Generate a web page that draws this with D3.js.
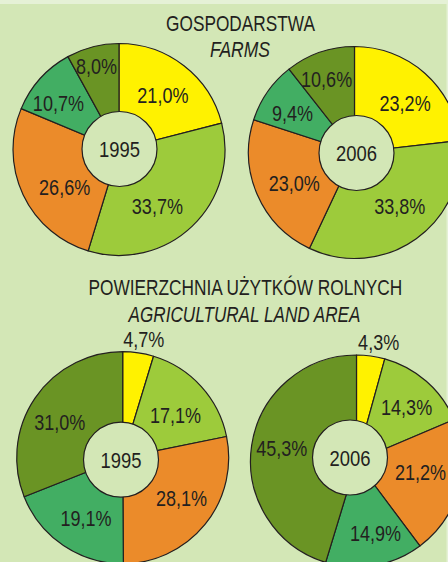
<!DOCTYPE html>
<html>
<head>
<meta charset="utf-8">
<script src="https://cdn.jsdelivr.net/npm/d3@7"></script>
<style>
  body { margin: 0; background: #d3e7b6; }
  svg { display: block; }
</style>
</head>
<body>
<svg id="chart" width="448" height="562"></svg>
<script>
// slice order, clockwise from 12 o'clock (legend not shown in the crop)
const categories = ['c1', 'c2', 'c3', 'c4', 'c5']
const farms1995 = [21.0, 33.7, 26.6, 10.7, 8.0]
const farms2006 = [23.2, 33.8, 23.0, 9.4, 10.6]
const land1995 = [4.7, 17.1, 28.1, 19.1, 31.0]
const land2006 = [4.3, 14.3, 21.2, 14.9, 45.3]
const years = ['1995', '2006']

const colors = ['#fff200', '#9dcb3b', '#eb8b2a', '#42ae63', '#6a9424']
const bg = '#d3e7b6'
const ink = '#231f20'

let svg = d3.select('#chart')
let width = 448, height = 562

svg.append('rect').attr('width', width).attr('height', height).attr('fill', bg)
// lighter frame strips at top and right edge
svg.append('rect').attr('width', width).attr('height', 4).attr('fill', '#e5f1d6')
svg.append('rect').attr('x', width - 1.5).attr('width', 1.5).attr('height', height).attr('fill', '#e5f1d6')

let color = d3.scaleOrdinal(categories, colors)
let pl = d3.formatLocale({ decimal: ',', thousands: ' ', grouping: [3], currency: ['', ''] })
let pct = v => pl.format('.1f')(v) + '%'

// condensed look: Arial-metric font squeezed horizontally
let font = '"Liberation Sans", Arial, sans-serif'
let squeeze = 0.82

// titles, squeezed to the width they have in the original
let titles = [
  { text: 'GOSPODARSTWA', x: 240.5, y: 30.5, len: 149, italic: false },
  { text: 'FARMS', x: 240, y: 56.5, len: 60, italic: true },
  { text: 'POWIERZCHNIA UŻYTKÓW ROLNYCH', x: 245.3, y: 295, len: 314, italic: false },
  { text: 'AGRICULTURAL LAND AREA', x: 244.5, y: 321.5, len: 232, italic: true }
]
svg.append('g').selectAll('text')
  .data(titles)
  .enter().append('text')
  .attr('text-anchor', 'middle')
  .attr('font-family', font)
  .attr('font-size', 22.5)
  .attr('font-style', d => d.italic ? 'italic' : 'normal')
  .attr('fill', ink)
  .text(d => d.text)
  .attr('transform', function (d) {
    let k = d.len / this.getComputedTextLength()
    return `translate(${d.x},${d.y}) scale(${k},1)`
  })

let radius = 106
let labelRadius = 70
let outsideRadius = 120

let pies = [
  { values: farms1995, year: years[0], cx: 119, cy: 149.5, hole: [0.5, -0.5],
    nudge: [[1, 1], [-10, 5.5], [9, 7.5], [-8.5, 0.5], [-5, -16]] },
  { values: farms2006, year: years[1], cx: 354.5, cy: 152.5, hole: [2, 0.5],
    nudge: [[4, 3], [4.5, -3.5], [4, 3], [-4.5, 1], [-5, -7.5]] },
  { values: land1995, year: years[0], cx: 122.7, cy: 457.7, hole: [-1.7, 2],
    nudge: [[3.5, 0], [1, 4], [4.5, -4], [2.5, 2], [-5, 4]] },
  { values: land2006, year: years[1], cx: 356.5, cy: 461, hole: [-6.5, -3.5],
    nudge: [[6, -0.5], [4, -1.5], [-3.5, -7.5], [7, 3.5], [-5.5, -2.5]] }
]

let pie = d3.pie().sort(null).value(d => d)
let arc = d3.arc().innerRadius(0).outerRadius(radius)
let labelArc = d3.arc().innerRadius(labelRadius).outerRadius(labelRadius)
let outArc = d3.arc().innerRadius(outsideRadius).outerRadius(outsideRadius)

pies.forEach(p => {
  let arcs = pie(p.values)
  let g = svg.append('g').attr('transform', `translate(${p.cx},${p.cy})`)

  g.selectAll('path')
    .data(arcs)
    .enter().append('path')
    .attr('d', arc)
    .attr('fill', (d, i) => color(categories[i]))
    .attr('stroke', ink)
    .attr('stroke-width', 1.2)
    .attr('stroke-linejoin', 'round')

  g.selectAll('text.val')
    .data(arcs)
    .enter().append('text')
    .attr('class', 'val')
    .attr('transform', (d, i) => {
      let c = d.data < 6 ? outArc.centroid(d) : labelArc.centroid(d)
      return `translate(${c[0] + p.nudge[i][0]},${c[1] + p.nudge[i][1]}) scale(${squeeze},1)`
    })
    .attr('dy', '0.36em')
    .attr('text-anchor', 'middle')
    .attr('font-family', font)
    .attr('font-size', 22)
    .attr('fill', ink)
    .text(d => pct(d.data))

  let hole = g.append('g').attr('transform', `translate(${p.hole[0]},${p.hole[1]})`)
  hole.append('circle')
    .attr('r', 37.5)
    .attr('fill', bg)
    .attr('stroke', ink)
    .attr('stroke-width', 1.2)
  hole.append('text')
    .attr('transform', `scale(${squeeze},1)`)
    .attr('dy', '0.36em')
    .attr('text-anchor', 'middle')
    .attr('font-family', font)
    .attr('font-size', 22.5)
    .attr('fill', ink)
    .text(p.year)
})
</script>
</body>
</html>
